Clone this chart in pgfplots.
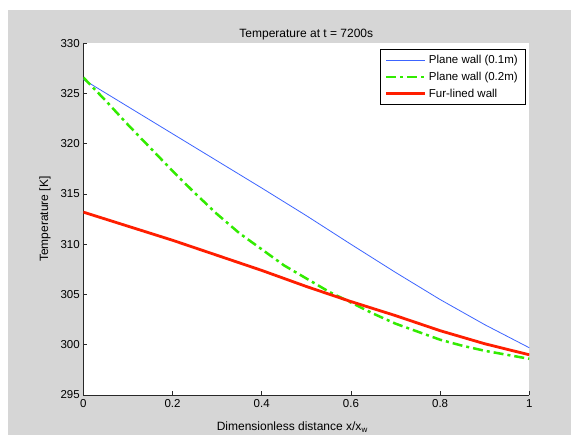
\documentclass[border=0pt]{standalone}
\usepackage{pgfplots}
\pgfplotsset{compat=1.18}
\usepackage{fontspec}
\setmainfont{Liberation Sans}
\definecolor{figgray}{RGB}{214,214,214}
\definecolor{mblue}{RGB}{60,100,255}
\definecolor{mgreen}{RGB}{50,235,0}
\definecolor{mred}{RGB}{255,30,0}
\begin{document}
\begin{tikzpicture}[x=1pt,y=1pt]
\fill[white] (0,0) rectangle (571,435);
\fill[figgray] (8,0) rectangle (571,425);
\begin{axis}[
  at={(83.3pt,40pt)}, anchor=south west,
  scale only axis, width=446pt, height=351.7pt,
  xmin=0, xmax=1, ymin=295, ymax=330,
  axis background/.style={fill=white},
  axis x line*=bottom, axis y line*=left,
  axis line style={-, draw={rgb,255:red,40;green,40;blue,40}, line width=0.7pt},
  tick align=inside, major tick length=4pt,
  tick style={draw={rgb,255:red,40;green,40;blue,40}, line width=0.7pt},
  xtick={0,0.2,0.4,0.6,0.8,1},
  xticklabels={0,0.2,0.4,0.6,0.8,1},
  ytick={295,300,305,310,315,320,325,330},
  yticklabels={295,300,305,310,315,320,325,330},
  ticklabel style={font=\fontsize{11.5}{13}\selectfont},
  xticklabel style={yshift=-1pt},
  label style={font=\fontsize{12}{14}\selectfont},
  title style={font=\fontsize{12}{14}\selectfont, yshift=-6pt},
  title={Temperature at t = 7200s},
  xlabel={Dimensionless distance x/x\textsubscript{w}},
  xlabel style={xshift=-14pt, yshift=-7pt},
  ylabel={Temperature [K]},
  ylabel style={yshift=3pt},
  legend style={at={(1,1)}, anchor=north east, xshift=-4.3pt, yshift=-5.7pt,
    draw=black, line width=0.5pt, fill=white,
    font=\fontsize{11.5}{13}\selectfont,
    inner xsep=4.5pt, inner ysep=4pt, row sep=3pt,
    nodes={inner xsep=2.5pt}},
  legend cell align=left,
  legend image code/.code={\draw[#1] (0pt,0pt) -- (39pt,0pt);},
]
\addplot[mblue, line width=0.8pt] coordinates {
(0,326.4) (0.1,323.7) (0.2,321.0) (0.3,318.3) (0.4,315.6) (0.5,312.85)
(0.6,310.0) (0.7,307.2) (0.8,304.5) (0.9,302.0) (1,299.7)};
\addlegendentry{Plane wall (0.1m)}
\addplot[mgreen, line width=2.5pt, dash pattern=on 10pt off 4pt on 3pt off 4pt] coordinates {
(0,326.6) (0.05,324.3) (0.1,321.9) (0.15,319.6) (0.2,317.3) (0.25,315.1)
(0.3,313.0) (0.35,311.1) (0.4,309.5) (0.45,307.9) (0.5,306.6) (0.55,305.3)
(0.6,304.2) (0.65,303.1) (0.7,302.1) (0.75,301.3) (0.8,300.5) (0.85,299.9)
(0.9,299.4) (0.95,299.0) (1,298.6)};
\addlegendentry{Plane wall (0.2m)}
\addplot[mred, line width=2.8pt] coordinates {
(0,313.2) (0.1,311.8) (0.2,310.4) (0.3,308.9) (0.4,307.4) (0.5,305.8)
(0.6,304.3) (0.7,302.9) (0.8,301.4) (0.9,300.1) (1,299.0)};
\addlegendentry{Fur-lined wall}
\end{axis}
\pgfresetboundingbox
\useasboundingbox (0,0) rectangle (571,435);
\end{tikzpicture}
\end{document}
